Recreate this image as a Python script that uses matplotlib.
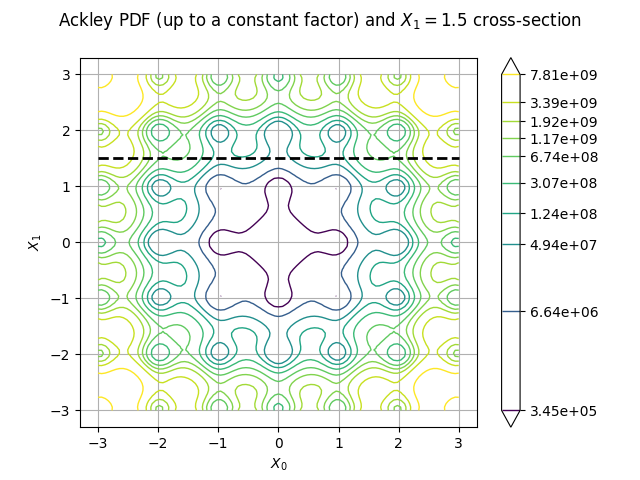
import numpy as np
import matplotlib
matplotlib.use("Agg")
import matplotlib.pyplot as plt
from matplotlib.colors import LogNorm

# contour levels
levels = [3.45e+05, 6.64e+06, 4.94e+07, 1.24e+08, 3.07e+08, 6.74e+08,
          1.17e+09, 1.92e+09, 3.39e+09, 7.81e+09]
x_min, x_max = -3.0, 3.0
n_points = 101
cross_x1 = 1.5


def ackley(x0, x1):
    r = np.sqrt(0.5 * (x0 ** 2 + x1 ** 2))
    return (-20.0 * np.exp(-0.2 * r)
            - np.exp(0.5 * (np.cos(2 * np.pi * x0) + np.cos(2 * np.pi * x1)))
            + np.e + 20.0)


# pdf up to a constant factor
x = np.linspace(x_min, x_max, n_points)
X0, X1 = np.meshgrid(x, x)
pdf = ackley(X0, X1) ** 10

fig, ax = plt.subplots(figsize=(6.4, 4.8))
cs = ax.contour(X0, X1, pdf, levels=levels, cmap="viridis",
                norm=LogNorm(), extend="both", linewidths=1.0)
cbar = fig.colorbar(cs, ticks=levels, format="%.2e")
cbar.ax.minorticks_off()

# cross-section line
ax.plot([x_min, x_max], [cross_x1, cross_x1], "k--", linewidth=2)
ax.use_sticky_edges = False
ax.autoscale(tight=False)
ax.autoscale_view()
ax.grid()
ax.set_xlabel("$X_0$")
ax.set_ylabel("$X_1$")
fig.suptitle("Ackley PDF (up to a constant factor) and $X_1 = 1.5$ cross-section")

fig.savefig("out.png", dpi=100)
